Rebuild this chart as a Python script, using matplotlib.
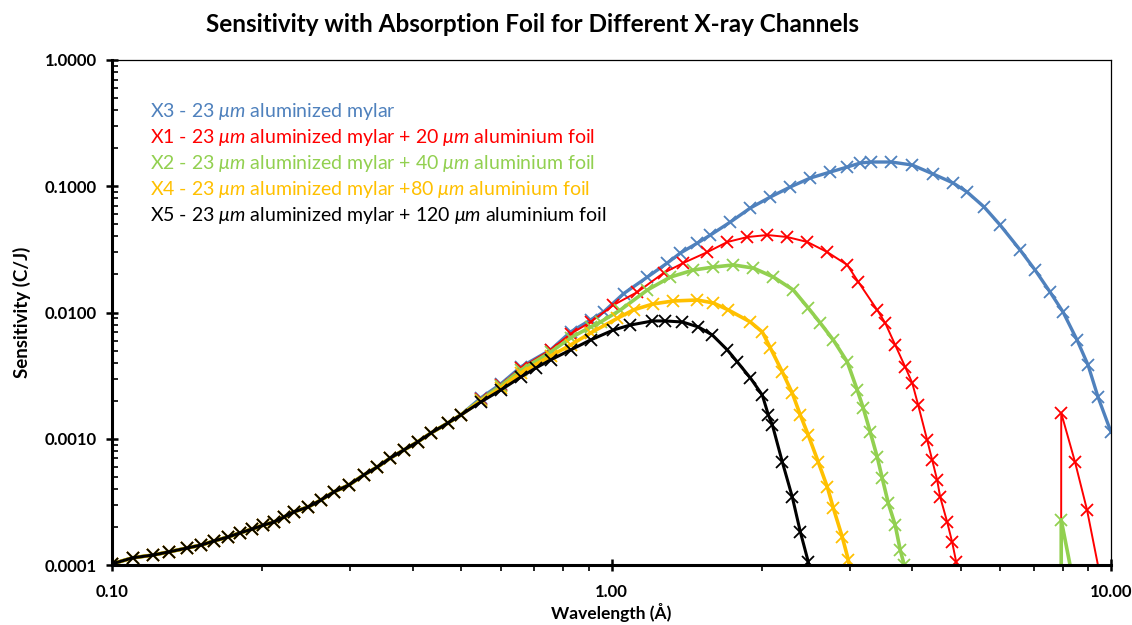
import matplotlib
matplotlib.use("Agg")
import matplotlib.pyplot as plt
from matplotlib.ticker import FixedLocator, LogLocator, NullFormatter, FuncFormatter

plt.rcParams['font.family'] = ['Lato', 'DejaVu Sans']
plt.rcParams['mathtext.fontset'] = 'custom'
plt.rcParams['mathtext.it'] = 'Lato:italic'
plt.rcParams['mathtext.rm'] = 'Lato'

# shared part of all five channels (short wavelengths)
base_wl = [0.100, 0.110, 0.121, 0.130, 0.141, 0.151, 0.160, 0.171, 0.180, 0.191, 0.201,
           0.211, 0.221, 0.231, 0.247, 0.262, 0.278, 0.298, 0.319, 0.340, 0.361, 0.384,
           0.409, 0.435, 0.470, 0.499]
base_sens = [0.000102, 0.000114, 0.000120, 0.000127, 0.000136, 0.000144, 0.000155, 0.000167,
             0.000179, 0.000193, 0.000207, 0.000219, 0.000240, 0.000263, 0.000288, 0.000327,
             0.000379, 0.000430, 0.000516, 0.000598, 0.000705, 0.000815, 0.000943, 0.00111,
             0.00133, 0.00154]

# X3 - mylar only
x3_wl = [0.547, 0.600, 0.658, 0.755, 0.828, 0.908, 0.964, 1.057, 1.180, 1.294,
         1.374, 1.486, 1.578, 1.730, 1.897, 2.080, 2.280, 2.500, 2.742, 2.965, 3.148, 3.311,
         3.631, 4.000, 4.406, 4.831, 5.152, 5.572, 5.998, 6.577, 7.047, 7.551, 8.017, 8.551,
         8.995, 9.419, 10.00]
x3_sens = [0.00210, 0.00271, 0.00370, 0.00505, 0.00701, 0.00873, 0.01009, 0.0141,
           0.0191, 0.0247, 0.0296, 0.0355, 0.0411, 0.0521, 0.0673, 0.0822, 0.0987,
           0.1162, 0.1297, 0.1420, 0.1528, 0.1556, 0.1556, 0.1473, 0.1250, 0.1061, 0.0900,
           0.0685, 0.0493, 0.0313, 0.0217, 0.01453, 0.01009, 0.00606, 0.00384, 0.00214, 0.00113]

# X1 - mylar + 20 um Al
x1_wl = [0.547, 0.600, 0.658, 0.755, 0.828, 0.908, 1.009, 1.127, 1.271, 1.393, 1.556, 1.706,
         1.871, 2.051, 2.249, 2.466, 2.704, 2.965, 3.119, 3.404, 3.532, 3.698, 3.873, 4.000,
         4.111, 4.285, 4.385, 4.487, 4.550, 4.699, 4.808, 4.898, 5.152, 7.94, 7.95, 8.472,
         8.954, 10.00]
x1_sens = [0.00206, 0.00267, 0.00363, 0.00505, 0.00676, 0.00841, 0.01146, 0.01453, 0.02055,
           0.0247, 0.0301, 0.0362, 0.0396, 0.0411, 0.0396, 0.0362, 0.0301, 0.0238, 0.0175,
           0.01047, 0.00826, 0.00553, 0.00370, 0.00277, 0.00185, 0.000977, 0.000679, 0.000471,
           0.000346, 0.000219, 0.000152, 0.000106, 0.00003, 1e-7, 0.0016, 0.000654, 0.000273,
           0.00003]

# X2 - mylar + 40 um Al
x2_wl = [0.547, 0.600, 0.658, 0.755, 0.828, 0.908, 0.951, 1.042, 1.180, 1.312, 1.459, 1.600,
         1.754, 1.923, 2.109, 2.312, 2.477, 2.618, 2.780, 2.965, 3.105, 3.192, 3.296, 3.404,
         3.483, 3.581, 3.698, 3.784, 3.855, 4.000, 7.94, 7.95, 8.472]
x2_sens = [0.00203, 0.00262, 0.00350, 0.00486, 0.00629, 0.00768, 0.00841, 0.01047, 0.01508,
           0.0191, 0.0217, 0.0229, 0.0238, 0.0225, 0.0191, 0.01508, 0.01086, 0.00826, 0.00606,
           0.00406, 0.00243, 0.00175, 0.00113, 0.000716, 0.000489, 0.000310, 0.000207,
           0.000132, 0.000100, 0.00004, 1e-9, 0.000227, 0.000063]

# X4 - mylar + 80 um Al
x4_wl = [0.547, 0.600, 0.658, 0.755, 0.828, 0.908, 1.028, 1.107, 1.213, 1.330, 1.486, 1.600,
         1.714, 1.897, 2.004, 2.080, 2.198, 2.301, 2.388, 2.477, 2.594, 2.704, 2.780, 2.897,
         2.979, 3.100]
x4_sens = [0.00199, 0.00252, 0.00332, 0.00452, 0.00553, 0.00689, 0.00900, 0.01050, 0.01170,
           0.01234, 0.01256, 0.01189, 0.01047, 0.00841, 0.00701, 0.00524, 0.00338, 0.00230,
           0.00154, 0.00107, 0.000654, 0.000415, 0.000283, 0.000167, 0.000110, 0.00004]

# X5 - mylar + 120 um Al
x5_wl = [0.547, 0.600, 0.658, 0.705, 0.755, 0.828, 0.908, 1.009, 1.091, 1.208, 1.282, 1.387,
         1.493, 1.592, 1.706, 1.786, 1.897, 2.004, 2.061, 2.099, 2.198, 2.301, 2.388, 2.477,
         2.600]
x5_sens = [0.00195, 0.00243, 0.00308, 0.00363, 0.00421, 0.00505, 0.00606, 0.00727, 0.00796,
           0.00857, 0.00857, 0.00841, 0.00768, 0.00663, 0.00505, 0.00406, 0.00303, 0.00222,
           0.00154, 0.00129, 0.000654, 0.000346, 0.000183, 0.000106, 0.00003]

labels = [
    r"X3 - 23 $\mu m$ aluminized mylar",
    r"X1 - 23 $\mu m$ aluminized mylar + 20 $\mu m$ aluminium foil",
    r"X2 - 23 $\mu m$ aluminized mylar + 40 $\mu m$ aluminium foil",
    r"X4 - 23 $\mu m$ aluminized mylar +80 $\mu m$ aluminium foil",
    r"X5 - 23 $\mu m$ aluminized mylar + 120 $\mu m$ aluminium foil",
]
colors = ['#4F81BD', '#FF0000', '#92D050', '#FFC000', '#000000']
widths = [2.4, 1.4, 2.6, 2.6, 2.2]

series = [(x3_wl, x3_sens), (x1_wl, x1_sens), (x2_wl, x2_sens), (x4_wl, x4_sens), (x5_wl, x5_sens)]

fig = plt.figure(figsize=(11.32, 6.25), dpi=100)
ax = fig.add_axes([112 / 1132, 60 / 625, 999 / 1132, 505 / 625])

for (wl, sens), c, lw in zip(series, colors, widths):
    ax.plot(base_wl + wl, base_sens + sens, color=c, lw=lw, marker='x', ms=8.5, mew=1.3)

ax.set_xscale('log')
ax.set_yscale('log')
ax.set_xlim(0.1, 10)
ax.set_ylim(0.0001, 1)

ax.xaxis.set_major_locator(FixedLocator([0.1, 1, 10]))
ax.yaxis.set_major_locator(FixedLocator([0.0001, 0.001, 0.01, 0.1, 1]))
ax.xaxis.set_minor_locator(LogLocator(base=10, subs=range(2, 10)))
ax.yaxis.set_minor_locator(LogLocator(base=10, subs=range(2, 10)))
ax.xaxis.set_minor_formatter(NullFormatter())
ax.yaxis.set_minor_formatter(NullFormatter())
ax.xaxis.set_major_formatter(FuncFormatter(lambda v, p: f"{v:.2f}"))
ax.yaxis.set_major_formatter(FuncFormatter(lambda v, p: f"{v:.4f}"))

ax.tick_params(axis='both', which='major', direction='inout', length=8, width=1.8,
               labelsize=12)
ax.tick_params(axis='x', which='major', pad=10)
ax.tick_params(axis='y', which='major', pad=7)
ax.tick_params(axis='y', which='minor', direction='in', length=4, width=1.2)
ax.tick_params(axis='x', which='minor', direction='out', length=4, width=1.2)
for lab in ax.get_xticklabels() + ax.get_yticklabels():
    lab.set_fontweight('bold')

for s in ['left', 'bottom']:
    ax.spines[s].set_linewidth(2.2)
for s in ['top', 'right']:
    ax.spines[s].set_linewidth(0.9)

fig.text(611 / 1132, 12 / 625, "Wavelength (Å)", ha='center', va='center',
         fontsize=12.5, fontweight='bold')
ax.set_ylabel("Sensitivity (C/J)", fontsize=13.5, fontweight='bold', labelpad=10)

fig.text(533 / 1132, 1 - 25 / 625, "Sensitivity with Absorption Foil for Different X-ray Channels",
         ha='center', va='center', fontsize=17.5, fontweight='bold')

ys = [112, 138, 163, 189, 215]
for lbl, c, y in zip(labels, colors, ys):
    ax.text(0.038, (565 - y) / 505, lbl, color=c, fontsize=14, transform=ax.transAxes,
            ha='left', va='center')

fig.savefig("out.png", dpi=100)
